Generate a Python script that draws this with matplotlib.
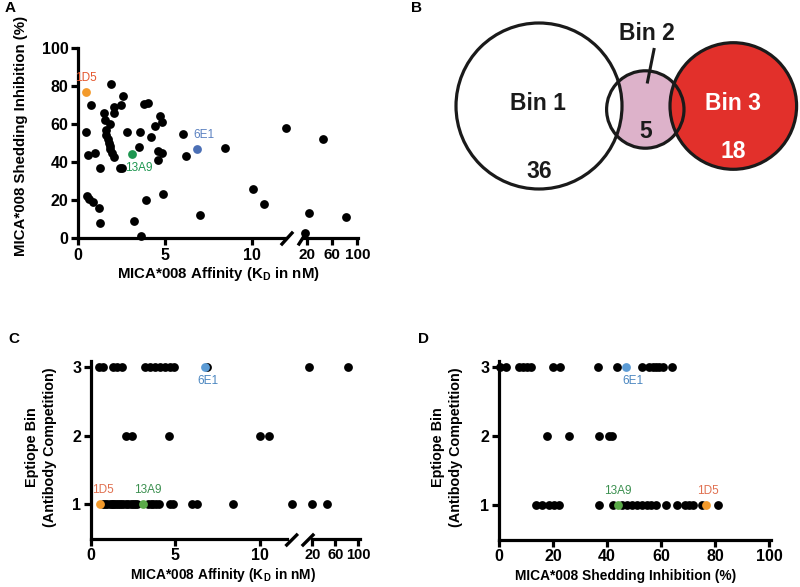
import matplotlib
matplotlib.use("Agg")
import matplotlib.pyplot as plt
from matplotlib.patches import Circle
from matplotlib.lines import Line2D

plt.rcParams['font.family'] = ['Liberation Sans', 'DejaVu Sans']
plt.rcParams['mathtext.fontset'] = 'custom'
plt.rcParams['mathtext.bf'] = 'Liberation Sans:bold'
plt.rcParams['mathtext.rm'] = 'Liberation Sans:bold'

W, H = 800, 587

# ---------------- data ----------------
# Panel A: affinity (KD, nM) vs shedding inhibition (%)
a_affinity = [1.89, 0.74, 2.58, 2.08, 2.48, 2.08, 1.47, 3.80, 4.00, 4.69, 4.81, 4.39,
              1.56, 1.81, 1.58, 0.46, 2.79, 3.53, 4.20, 6.01, 1.62, 1.70, 1.77, 1.82,
              1.85, 1.93, 2.04, 2.42, 2.52, 0.57, 0.95, 1.28, 3.51, 4.58, 4.81, 4.60,
              6.22, 0.50, 0.61, 0.88, 1.20, 1.28, 3.20, 3.60, 3.91, 4.90, 7.00, 8.45,
              10.06, 10.65, 11.95, 17.3, 23.6, 45.3, 82.0]
a_inhibition = [81, 70, 75, 69, 70, 66, 66, 70.5, 71, 64, 61, 59,
                62, 60, 57, 56, 56, 56, 53, 55, 54, 52, 50, 48.5,
                47, 45, 42.5, 37, 37, 43.7, 44.7, 37, 48, 46, 44.7, 41,
                43, 22, 20.5, 19, 16, 8, 9, 1, 20, 23, 12, 47.5,
                26, 18, 58, 2.5, 13.3, 52, 11]

# highlighted antibodies
hl_names = ['1D5', '13A9', '6E1']
hl_affinity_A = [0.48, 3.07, 6.81]
hl_inhibition_A = [77, 44, 47]
hl_affinity_C = [0.53, 3.10, 6.75]
hl_inhibition_D = [76.6, 44.0, 46.8]
hl_bin = [1, 1, 3]

# Panel C: affinity vs epitope bin
c_affinity = [0.49, 0.69, 1.32, 1.56, 1.81, 3.2, 3.5, 3.8, 4.1, 4.4, 4.7, 4.9, 6.88, 14.3, 82.6,
              2.07, 2.41, 4.62, 10.0, 10.55,
              0.73, 0.85, 0.97, 1.1, 1.22, 1.3, 1.42, 1.55, 1.68, 1.8, 1.91, 2.05, 2.21, 2.35,
              2.47, 2.6, 2.74, 3.39, 3.55, 3.69, 3.85, 4.02, 4.7, 4.87, 5.96, 6.25, 8.38, 11.87,
              20.0, 45.0]
c_bin = [3] * 15 + [2] * 5 + [1] * 30

# Panel D: shedding inhibition vs epitope bin
d_inhibition = [0.5, 2.5, 7.5, 8.8, 10.3, 11.8, 20, 22.7, 36.8, 43.6, 52.9, 55.5, 56.8, 58,
                59.3, 60.7, 64,
                17.9, 25.9, 37, 40.7, 41.9,
                13.7, 15.8, 18.6, 20.5, 22.2, 37, 42.3, 45.4, 47.2, 49.1, 50.9, 52.8, 54.6,
                56.1, 58.1, 61.8, 65.7, 68.8, 70.3, 71.6, 75, 81.1]
d_bin = [3] * 17 + [2] * 5 + [1] * 22

# Panel B: Venn bins
bin_names = ['Bin 1', 'Bin 2', 'Bin 3']
bin_counts = [36, 5, 18]

# ---------------- styling ----------------
SPINE_LW = 2.3
MS = 40
BREAK = 13.0
label_colors_A = ['#E4572E', '#1E9650', '#5A80C0']
marker_colors_A = ['#F39A2B', '#1E9650', '#4B6FB5']
label_colors_CD = ['#E07050', '#3C9050', '#4A86C0']
marker_colors_CD = ['#F39A2B', '#5AAA48', '#5B9BD5']
TICK_FS = 11.5
LAB_FS_A = 10.8
XLAB_FS_CD = 9.9
YLAB_FS_CD = 10.4


def rect(x0, y0, x1, y1):
    return [x0 / W, 1 - y1 / H, (x1 - x0) / W, (y1 - y0) / H]


def style_ax(ax, left=True, fs=TICK_FS):
    for s in ['top', 'right']:
        ax.spines[s].set_visible(False)
    ax.spines['bottom'].set_linewidth(SPINE_LW)
    if left:
        ax.spines['left'].set_linewidth(SPINE_LW)
    else:
        ax.spines['left'].set_visible(False)
        ax.tick_params(axis='y', left=False, labelleft=False)
    ax.tick_params(width=SPINE_LW, length=5, labelsize=fs, pad=2)
    for lab in ax.get_xticklabels() + ax.get_yticklabels():
        lab.set_fontweight('bold')
    ax.patch.set_alpha(0)


def split(xs, ys, right):
    pts = [(x, y) for x, y in zip(xs, ys) if (x > BREAK) == right]
    return [p[0] for p in pts], [p[1] for p in pts]


def slash(x0, y0, x1, y1):
    fig.add_artist(Line2D([x0 / W, x1 / W], [1 - y0 / H, 1 - y1 / H],
                          color='black', lw=2.4, transform=fig.transFigure))


def ftext(x, y, s, **kw):
    fig.text(x / W, 1 - y / H, s, **kw)


fig = plt.figure(figsize=(8, 5.87), dpi=100)

# ---------------- Panel A ----------------
axA1 = fig.add_axes(rect(78, 48, 285, 238))
axA2 = fig.add_axes(rect(303, 48, 358.3, 238))
for ax, right in ((axA1, False), (axA2, True)):
    xs, ys = split(a_affinity, a_inhibition, right)
    ax.scatter(xs, ys, s=MS, color='black', clip_on=False, zorder=3, linewidths=0)
    ax.set_ylim(0, 100)
axA1.set_xlim(0, 11.876)
axA2.set_xlim(14.15, 101.6)
axA1.set_xticks([0, 5, 10])
axA2.set_xticks([20, 60, 100])
axA1.set_yticks([0, 20, 40, 60, 80, 100])
style_ax(axA1)
style_ax(axA2, left=False, fs=11)
offsA = [(0, 10), (5, -10), (5, 10)]
for i, n in enumerate(hl_names):
    axA1.scatter([hl_affinity_A[i]], [hl_inhibition_A[i]], s=MS, color=marker_colors_A[i],
                 zorder=4, clip_on=False, linewidths=0)
    axA1.annotate(n, (hl_affinity_A[i], hl_inhibition_A[i]), xytext=offsA[i],
                  textcoords='offset points', ha='center', va='center', fontsize=8.5,
                  color=label_colors_A[i])
slash(282, 244, 292, 233)
slash(299, 244, 306, 233)
ftext(5, 8, 'A', fontsize=11, fontweight='bold', ha='left', va='center')
ftext(218, 274, r'MICA*008 Affinity (K$_\mathbf{D}$ in nM)', fontsize=LAB_FS_A,
      fontweight='bold', ha='center', va='center')
ftext(21, 136, 'MICA*008 Shedding Inhibition (%)', fontsize=LAB_FS_A, fontweight='bold',
      ha='center', va='center', rotation=90)

# ---------------- Panel B (Venn) ----------------
axB = fig.add_axes(rect(380, 0, 800, 270))
axB.set_xlim(380, 800)
axB.set_ylim(270, 0)
axB.axis('off')
c1 = (539, 106, 83)
c2 = (645.3, 109.5, 38.7)
c3 = (733.3, 106, 63.3)
axB.add_patch(Circle(c2[:2], c2[2], facecolor='#DDB2CA', edgecolor='none', zorder=1))
axB.add_patch(Circle(c1[:2], c1[2], facecolor='white', edgecolor='none', zorder=2))
axB.add_patch(Circle(c3[:2], c3[2], facecolor='#E2302B', edgecolor='none', zorder=3))
for c in (c1, c2, c3):
    axB.add_patch(Circle(c[:2], c[2], facecolor='none', edgecolor='#1a1a1a', lw=2.3, zorder=5))
BFS = 16.5
axB.text(538, 104, bin_names[0], fontsize=BFS, fontweight='bold', ha='center', va='center',
         color='#1a1a1a', zorder=6)
axB.text(539, 171, str(bin_counts[0]), fontsize=BFS, fontweight='bold', ha='center',
         va='center', color='#1a1a1a', zorder=6)
axB.text(647, 34, bin_names[1], fontsize=BFS, fontweight='bold', ha='center', va='center',
         color='#1a1a1a', zorder=6)
axB.plot([654, 647.5], [49.5, 82], color='#1a1a1a', lw=2.2, zorder=6)
axB.text(646, 131, str(bin_counts[1]), fontsize=BFS, fontweight='bold', ha='center',
         va='center', color='#1a1a1a', zorder=6)
axB.text(733, 104, bin_names[2], fontsize=BFS, fontweight='bold', ha='center', va='center',
         color='white', zorder=6)
axB.text(733, 152, str(bin_counts[2]), fontsize=BFS, fontweight='bold', ha='center',
         va='center', color='white', zorder=6)
ftext(416, 8, 'B', fontsize=11, fontweight='bold', ha='center', va='center')

# ---------------- Panel C ----------------
axC1 = fig.add_axes(rect(91, 361.2, 286.7, 538.7))
axC2 = fig.add_axes(rect(312, 361.2, 360, 538.7))
for ax, right in ((axC1, False), (axC2, True)):
    xs, ys = split(c_affinity, c_bin, right)
    ax.scatter(xs, ys, s=MS, color='black', clip_on=False, zorder=3, linewidths=0)
    ax.set_ylim(0.5, 3.08)
axC1.set_xlim(0, 11.58)
axC2.set_xlim(19.5, 103)
axC1.set_xticks([0, 5, 10])
axC2.set_xticks([20, 60, 100])
axC1.set_yticks([1, 2, 3])
style_ax(axC1)
style_ax(axC2, left=False, fs=10.5)
offsC = [(2, 10), (3, 10), (2, -10)]
for i, n in enumerate(hl_names):
    axC1.scatter([hl_affinity_C[i]], [hl_bin[i]], s=MS, color=marker_colors_CD[i], zorder=4,
                 clip_on=False, linewidths=0)
    axC1.annotate(n, (hl_affinity_C[i], hl_bin[i]), xytext=offsC[i],
                  textcoords='offset points', ha='center', va='center', fontsize=8.5,
                  color=label_colors_CD[i])
slash(286.7, 545, 296.7, 535)
slash(303, 545, 313, 535)
ftext(8, 339, 'C', fontsize=11, fontweight='bold', ha='left', va='center')
ftext(223, 575, r'MICA*008 Affinity (K$_\mathbf{D}$ in nM)', fontsize=XLAB_FS_CD,
      fontweight='bold', ha='center', va='center')
ftext(41, 447, 'Eptiope Bin\n(Antibody Competition)', fontsize=YLAB_FS_CD, fontweight='bold',
      ha='center', va='center', rotation=90, multialignment='center', linespacing=1.4)

# ---------------- Panel D ----------------
axD = fig.add_axes(rect(499, 361.2, 770.7, 539.6))
axD.scatter(d_inhibition, d_bin, s=MS, color='black', clip_on=False, zorder=3, linewidths=0)
axD.set_xlim(0, 100.5)
axD.set_ylim(0.5, 3.08)
axD.set_xticks([0, 20, 40, 60, 80, 100])
axD.set_yticks([1, 2, 3])
style_ax(axD)
offsD = [(1, 10), (0, 10), (5, -10)]
for i, n in enumerate(hl_names):
    axD.scatter([hl_inhibition_D[i]], [hl_bin[i]], s=MS, color=marker_colors_CD[i], zorder=4,
                clip_on=False, linewidths=0)
    axD.annotate(n, (hl_inhibition_D[i], hl_bin[i]), xytext=offsD[i],
                 textcoords='offset points', ha='center', va='center', fontsize=8.5,
                 color=label_colors_CD[i])
ftext(418, 339, 'D', fontsize=11, fontweight='bold', ha='left', va='center')
ftext(626, 576, 'MICA*008 Shedding Inhibition (%)', fontsize=XLAB_FS_CD, fontweight='bold',
      ha='center', va='center')
ftext(447, 447, 'Eptiope Bin\n(Antibody Competition)', fontsize=YLAB_FS_CD, fontweight='bold',
      ha='center', va='center', rotation=90, multialignment='center', linespacing=1.4)

fig.savefig('out.png', dpi=100)
